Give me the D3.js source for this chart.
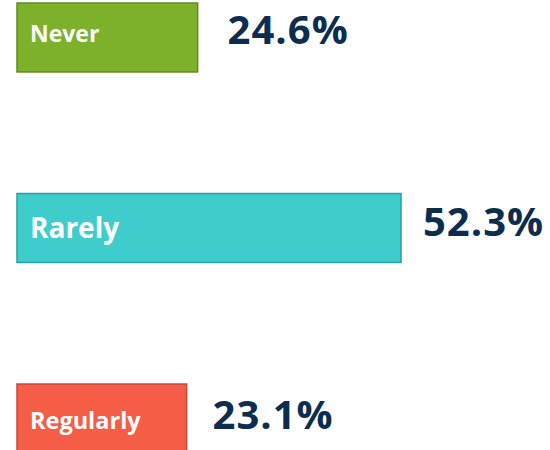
<!DOCTYPE html>
<html>
<head>
<meta charset="utf-8">
<script src="https://cdn.jsdelivr.net/npm/d3@7"></script>
<style>
  html, body { margin: 0; padding: 0; background: #fff; }
  svg { display: block; }
</style>
</head>
<body>
<div id="chart"></div>
<script>
let categories = ["Never", "Rarely", "Regularly"];
let values = [24.6, 52.3, 23.1];
let valueLabels = ["24.6%", "52.3%", "23.1%"];

// per-row look
let fills = ["#7db12c", "#3fcccc", "#f55d46"];
let strokes = ["#5e8c1c", "#2a9f9f", "#c9473a"];
let labelSizes = [23, 28, 23.5];
let labelShift = [5, 10, 10];
let valueGap = [30, 22, 26];
let valueShift = [6.5, 7.5, 10.5];

let width = 550;
let height = 450;

let svg = d3.select("#chart").append("svg")
    .attr("width", width)
    .attr("height", height);

let x = d3.scaleLinear()
    .domain([0, 52.3])
    .range([17, 401]);

let y = d3.scaleBand()
    .domain(categories)
    .range([3, 453])
    .paddingInner(0.638)
    .paddingOuter(0);

let rows = categories.map(function(c, i) {
    return { cat: c, v: values[i], lab: valueLabels[i], i: i };
});

// bars
svg.selectAll("rect.bar")
    .data(rows)
    .enter().append("rect")
    .attr("class", "bar")
    .attr("x", x(0))
    .attr("y", function(d) { return y(d.cat); })
    .attr("width", function(d) { return x(d.v) - x(0); })
    .attr("height", y.bandwidth())
    .attr("fill", function(d) { return fills[d.i]; })
    .attr("stroke", function(d) { return strokes[d.i]; })
    .attr("stroke-width", 1.5);

// category names inside the bars
svg.selectAll("text.cat")
    .data(rows)
    .enter().append("text")
    .attr("class", "cat")
    .attr("x", x(0) + 13)
    .attr("y", function(d) { return y(d.cat) + y.bandwidth() / 2 + labelShift[d.i]; })
    .attr("fill", "#ffffff")
    .style("font-family", "'Open Sans', 'Noto Sans', sans-serif")
    .style("font-weight", "bold")
    .style("font-size", function(d) { return labelSizes[d.i] + "px"; })
    .text(function(d) { return d.cat; });

// percentages right of the bars
svg.selectAll("text.val")
    .data(rows)
    .enter().append("text")
    .attr("class", "val")
    .attr("x", function(d) { return x(d.v) + valueGap[d.i]; })
    .attr("y", function(d) { return y(d.cat) + y.bandwidth() / 2 + valueShift[d.i]; })
    .attr("fill", "#0b2d4f")
    .style("font-family", "'Open Sans', 'Noto Sans', sans-serif")
    .style("font-weight", "bold")
    .style("font-size", "40px")
    .style("letter-spacing", "1px")
    .text(function(d) { return d.lab; });
</script>
</body>
</html>
